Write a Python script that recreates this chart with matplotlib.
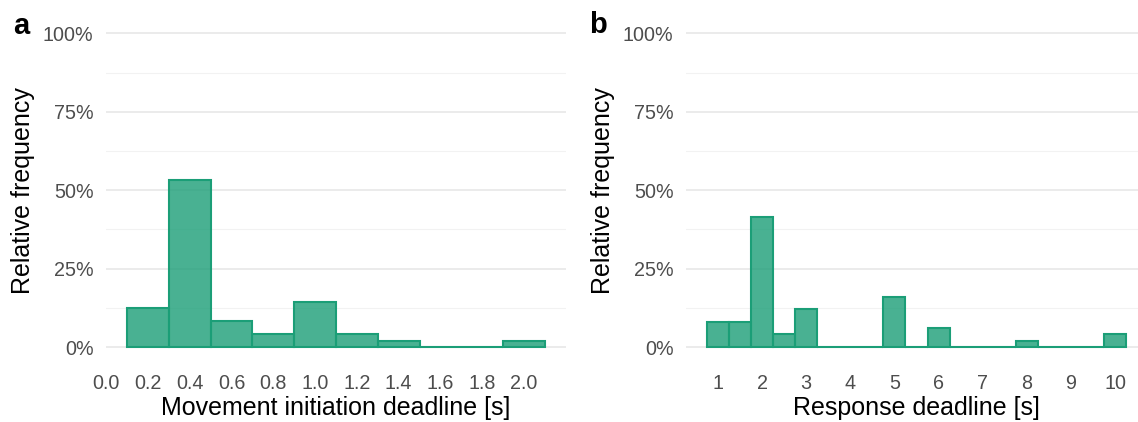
import matplotlib.pyplot as plt
from matplotlib.ticker import FixedLocator, FuncFormatter

# panel a: movement initiation deadline, bins of 0.2 s
mid_a = [0.2, 0.4, 0.6, 0.8, 1.0, 1.2, 1.4, 1.6, 1.8, 2.0]
freq_a = [12.4, 53.2, 8.2, 4.2, 14.4, 4.2, 2.0, 0.0, 0.0, 2.0]
ticks_a = [0.0, 0.2, 0.4, 0.6, 0.8, 1.0, 1.2, 1.4, 1.6, 1.8, 2.0]

# panel b: response deadline, bins of 0.5 s
mid_b = [1.0, 1.5, 2.0, 2.5, 3.0, 3.5, 4.0, 4.5, 5.0, 5.5,
         6.0, 6.5, 7.0, 7.5, 8.0, 8.5, 9.0, 9.5, 10.0]
freq_b = [8.0, 8.0, 41.3, 4.0, 12.0, 0.0, 0.0, 0.0, 16.0, 0.0,
          6.0, 0.0, 0.0, 0.0, 2.0, 0.0, 0.0, 0.0, 4.0]
ticks_b = [1, 2, 3, 4, 5, 6, 7, 8, 9, 10]

GREEN = "#1B9E77"
plt.rcParams["font.family"] = ["Liberation Sans", "DejaVu Sans"]

fig = plt.figure(figsize=(11.38, 4.22), dpi=100)
W, H = 1138, 422
bottom = (H - 362.7) / H
height = (362.7 - 17.6) / H

ax_a = fig.add_axes([106 / W, bottom, (566 - 106) / W, height])
ax_b = fig.add_axes([686 / W, bottom, (1147 - 686) / W, height])


def style(ax, mids, freqs, width, xlim, ticks, fmt, xlabel):
    ax.bar(mids, [f / 100 for f in freqs], width=width, color=GREEN, alpha=0.8,
           edgecolor="none", zorder=3)
    ax.bar(mids, [f / 100 for f in freqs], width=width, facecolor="none",
           edgecolor=GREEN, linewidth=1.5, zorder=4)
    ax.set_xlim(*xlim)
    ax.set_ylim(-0.05, 1.05)
    ax.yaxis.set_major_locator(FixedLocator([0, 0.25, 0.5, 0.75, 1.0]))
    ax.yaxis.set_minor_locator(FixedLocator([0.125, 0.375, 0.625, 0.875]))
    ax.yaxis.set_major_formatter(FuncFormatter(lambda v, p: f"{v * 100:.0f}%"))
    ax.xaxis.set_major_locator(FixedLocator(ticks))
    ax.xaxis.set_major_formatter(FuncFormatter(lambda v, p: fmt.format(v)))
    ax.grid(axis="y", which="major", color="#EBEBEB", linewidth=1.4, zorder=0)
    ax.grid(axis="y", which="minor", color="#F2F2F2", linewidth=0.8, zorder=0)
    for s in ax.spines.values():
        s.set_visible(False)
    ax.tick_params(axis="both", which="both", length=0, labelsize=14.2,
                   labelcolor="#4D4D4D")
    ax.tick_params(axis="x", pad=8)
    ax.tick_params(axis="y", pad=9)
    ax.set_xlabel(xlabel, fontsize=18, color="black", labelpad=2)
    ax.set_ylabel("Relative frequency", fontsize=18, color="black")
    ax.yaxis.set_label_coords(-0.155, 0.5)
    return ax


style(ax_a, mid_a, freq_a, 0.2, (0.0, 2.2), ticks_a, "{:.1f}",
      "Movement initiation deadline [s]")
style(ax_b, mid_b, freq_b, 0.5, (0.275, 10.725), ticks_b, "{:.0f}",
      "Response deadline [s]")

fig.text(13 / W, 1 - 34 / H, "a", fontsize=21, fontweight="bold", va="baseline")
fig.text(589 / W, 1 - 33 / H, "b", fontsize=21, fontweight="bold", va="baseline")

fig.savefig("out.png", dpi=100)
